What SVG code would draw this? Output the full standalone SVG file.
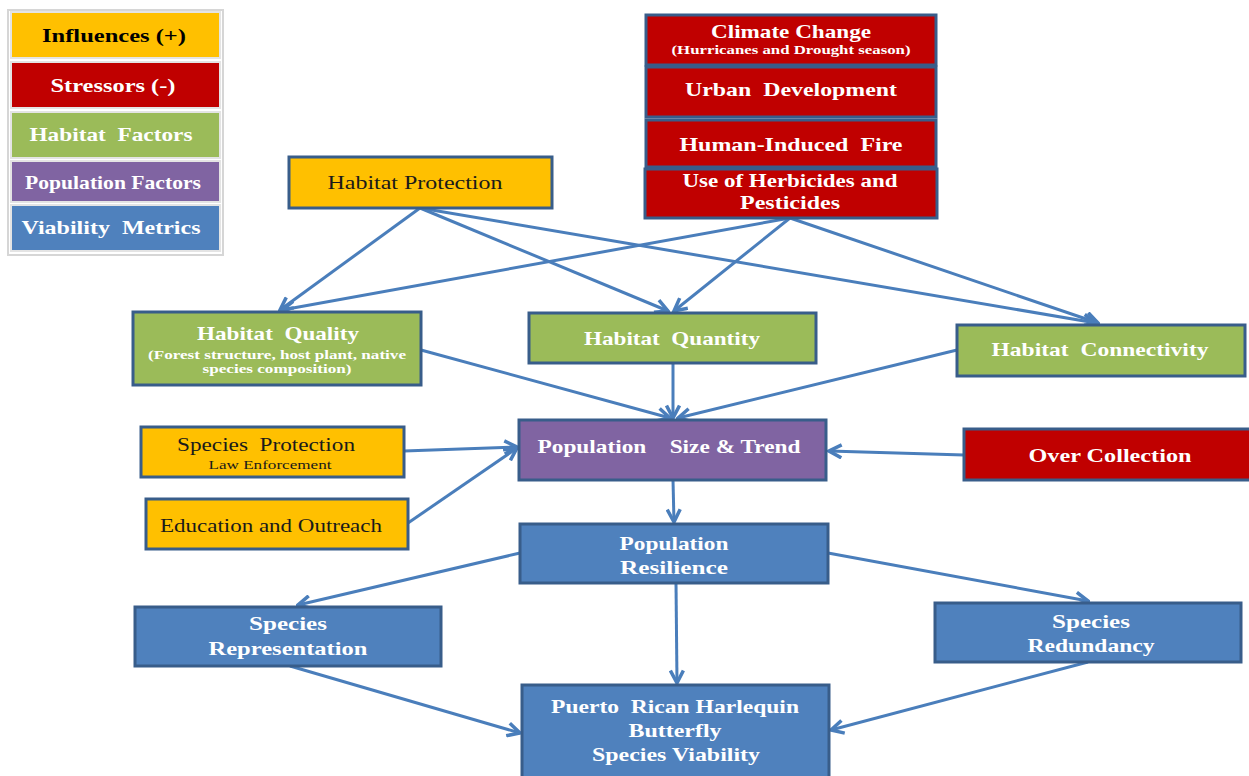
<svg xmlns="http://www.w3.org/2000/svg" width="1249" height="776" viewBox="0 0 1249 776">
<style>
.box{stroke:#385D8A;stroke-width:3}
.leg{stroke:#E4E4E4;stroke-width:2}
.y{fill:#FFC000}.r{fill:#C00000}.g{fill:#9BBB59}.p{fill:#8064A2}.bl{fill:#4F81BD}
text{font-family:"Liberation Serif","Times New Roman",serif;text-anchor:middle;white-space:pre}
.w{fill:#FFFFFF;font-weight:bold;font-size:19px}
.k{fill:#000000;font-weight:bold;font-size:19px}
.n{fill:#1A1A1A;font-size:19px}
.ws{fill:#FFFFFF;font-weight:bold;font-size:12px}
.ns{fill:#1A1A1A;font-size:13px}
.c{fill:none;stroke:#4A7EBB;stroke-width:3;marker-end:url(#ah)}
</style>
<defs>
<marker id="ah" viewBox="0 0 16 16" refX="14" refY="8" markerWidth="16" markerHeight="16" markerUnits="userSpaceOnUse" orient="auto">
<path d="M1.5,1.5 L14,8 L1.5,14.5" fill="none" stroke="#4A7EBB" stroke-width="3.5"/>
</marker>
</defs>
<rect width="1249" height="776" fill="#FFFFFF"/>
<g id="legend">
<rect x="8" y="10" width="215" height="245" fill="none" stroke="#D6D6D6" stroke-width="2"/>
<rect class="leg y" x="11" y="12" width="209" height="46"/>
<text class="k" x="114" y="42" textLength="144" lengthAdjust="spacingAndGlyphs">Influences (+)</text>
<rect class="leg r" x="11" y="62" width="209" height="46" stroke="#E8B8B8"/>
<text class="w" x="113" y="92" textLength="125" lengthAdjust="spacingAndGlyphs">Stressors (-)</text>
<rect class="leg g" x="11" y="112" width="209" height="46"/>
<text class="w" x="111" y="141" textLength="163" lengthAdjust="spacingAndGlyphs">Habitat  Factors</text>
<rect class="leg p" x="11" y="161" width="209" height="41"/>
<text class="w" x="113" y="189" textLength="176" lengthAdjust="spacingAndGlyphs">Population Factors</text>
<rect class="leg bl" x="11" y="205" width="209" height="46"/>
<text class="w" x="111" y="234" textLength="179" lengthAdjust="spacingAndGlyphs">Viability  Metrics</text>
</g>
<g id="connectors">
<line class="c" x1="420" y1="208" x2="280" y2="310"/>
<line class="c" x1="420" y1="208" x2="668" y2="311"/>
<line class="c" x1="420" y1="208" x2="1096" y2="323"/>
<line class="c" x1="790" y1="218" x2="282" y2="310"/>
<line class="c" x1="790" y1="218" x2="674" y2="311"/>
<line class="c" x1="790" y1="218" x2="1098" y2="323"/>
<line class="c" x1="421" y1="350" x2="670" y2="418"/>
<line class="c" x1="673" y1="363" x2="673" y2="418"/>
<line class="c" x1="957" y1="350" x2="678" y2="418"/>
<line class="c" x1="404" y1="451" x2="517" y2="447"/>
<line class="c" x1="408" y1="523" x2="517" y2="448"/>
<line class="c" x1="964" y1="455" x2="829" y2="451"/>
<line class="c" x1="673" y1="480" x2="674" y2="522"/>
<line class="c" x1="520" y1="553" x2="298" y2="605"/>
<line class="c" x1="828" y1="553" x2="1088" y2="601"/>
<line class="c" x1="676" y1="583" x2="677" y2="683"/>
<line class="c" x1="290" y1="666" x2="520" y2="733"/>
<line class="c" x1="1088" y1="662" x2="831" y2="730"/>
</g>
<g id="climate">
<rect class="box r" x="646" y="15" width="290" height="50"/>
<text class="w" x="791" y="38" textLength="160" lengthAdjust="spacingAndGlyphs">Climate Change</text>
<text class="ws" x="791" y="54" textLength="239" lengthAdjust="spacingAndGlyphs">(Hurricanes and Drought season)</text>
</g>
<g id="urban">
<rect class="box r" x="646" y="67" width="290" height="50"/>
<text class="w" x="791" y="96" textLength="212" lengthAdjust="spacingAndGlyphs">Urban  Development</text>
</g>
<g id="fire">
<rect class="box r" x="646" y="120" width="290" height="47"/>
<text class="w" x="791" y="151" textLength="223" lengthAdjust="spacingAndGlyphs">Human-Induced  Fire</text>
</g>
<g id="herbicides">
<rect class="box r" x="645" y="169" width="292" height="49"/>
<text class="w" x="790" y="187" textLength="215" lengthAdjust="spacingAndGlyphs">Use of Herbicides and</text>
<text class="w" x="790" y="209" textLength="100" lengthAdjust="spacingAndGlyphs">Pesticides</text>
</g>
<g id="habitat-protection">
<rect class="box y" x="289" y="157" width="263" height="51"/>
<text class="n" x="415" y="189" textLength="175" lengthAdjust="spacingAndGlyphs">Habitat Protection</text>
</g>
<g id="habitat-quality">
<rect class="box g" x="133" y="312" width="288" height="73"/>
<text class="w" x="278" y="340" textLength="162" lengthAdjust="spacingAndGlyphs">Habitat  Quality</text>
<text class="ws" x="277" y="359" textLength="258" lengthAdjust="spacingAndGlyphs">(Forest structure, host plant, native</text>
<text class="ws" x="277" y="373" textLength="149" lengthAdjust="spacingAndGlyphs">species composition)</text>
</g>
<g id="habitat-quantity">
<rect class="box g" x="529" y="313" width="287" height="50"/>
<text class="w" x="672" y="345" textLength="176" lengthAdjust="spacingAndGlyphs">Habitat  Quantity</text>
</g>
<g id="habitat-connectivity">
<rect class="box g" x="957" y="325" width="288" height="51"/>
<text class="w" x="1100" y="356" textLength="217" lengthAdjust="spacingAndGlyphs">Habitat  Connectivity</text>
</g>
<g id="population-size">
<rect class="box p" x="519" y="420" width="307" height="60"/>
<text class="w" x="669" y="453" textLength="263" lengthAdjust="spacingAndGlyphs">Population    Size &amp; Trend</text>
</g>
<g id="species-protection">
<rect class="box y" x="141" y="427" width="263" height="50"/>
<text class="n" x="266" y="451" textLength="178" lengthAdjust="spacingAndGlyphs">Species  Protection</text>
<text class="ns" x="270" y="469" textLength="123" lengthAdjust="spacingAndGlyphs">Law Enforcement</text>
</g>
<g id="education">
<rect class="box y" x="146" y="499" width="262" height="50"/>
<text class="n" x="271" y="532" textLength="222" lengthAdjust="spacingAndGlyphs">Education and Outreach</text>
</g>
<g id="over-collection">
<rect class="box r" x="964" y="429" width="290" height="51"/>
<text class="w" x="1110" y="462" textLength="163" lengthAdjust="spacingAndGlyphs">Over Collection</text>
</g>
<g id="population-resilience">
<rect class="box bl" x="520" y="524" width="308" height="59"/>
<text class="w" x="674" y="550" textLength="109" lengthAdjust="spacingAndGlyphs">Population</text>
<text class="w" x="674" y="574" textLength="108" lengthAdjust="spacingAndGlyphs">Resilience</text>
</g>
<g id="species-representation">
<rect class="box bl" x="135" y="607" width="306" height="59"/>
<text class="w" x="288" y="630" textLength="78" lengthAdjust="spacingAndGlyphs">Species</text>
<text class="w" x="288" y="655" textLength="159" lengthAdjust="spacingAndGlyphs">Representation</text>
</g>
<g id="species-redundancy">
<rect class="box bl" x="935" y="603" width="306" height="59"/>
<text class="w" x="1091" y="628" textLength="78" lengthAdjust="spacingAndGlyphs">Species</text>
<text class="w" x="1091" y="652" textLength="127" lengthAdjust="spacingAndGlyphs">Redundancy</text>
</g>
<g id="viability">
<rect class="box bl" x="522" y="685" width="307" height="100"/>
<text class="w" x="675" y="713" textLength="248" lengthAdjust="spacingAndGlyphs">Puerto  Rican Harlequin</text>
<text class="w" x="675" y="737" textLength="93" lengthAdjust="spacingAndGlyphs">Butterfly</text>
<text class="w" x="676" y="761" textLength="168" lengthAdjust="spacingAndGlyphs">Species Viability</text>
</g>
</svg>
